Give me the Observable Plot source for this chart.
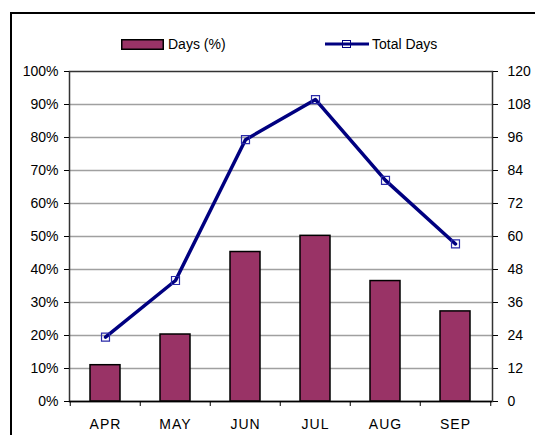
<!DOCTYPE html>
<html>
<head>
<meta charset="utf-8">
<script src="https://cdn.jsdelivr.net/npm/d3@7"></script>
<script src="https://cdn.jsdelivr.net/npm/@observablehq/plot@0.6"></script>
<style>
  html, body { margin: 0; padding: 0; background: #fff; }
  body { width: 535px; height: 435px; overflow: hidden; font-family: "Liberation Sans", Arial, sans-serif; }
  #wrap { position: relative; width: 535px; height: 435px; overflow: hidden; }
  #frame { position: absolute; left: 10px; top: 12px; width: 700px; height: 700px; border: 2px solid #000; box-sizing: border-box; }
  #chart { position: absolute; left: 0; top: 0; }
  .leg { position: absolute; font-size: 14px; line-height: 16px; color: #000; white-space: nowrap; }
  .mon text { letter-spacing: 1px; }
</style>
</head>
<body>
<div id="wrap">
  <div id="frame"></div>
  <div id="chart"></div>
  <svg class="leg" style="left:121px;top:39px" width="43" height="11"><rect x="0.75" y="0.75" width="41.5" height="9.5" fill="#993366" stroke="#000" stroke-width="1.5"/></svg>
  <span class="leg" style="left:168px;top:36px">Days (%)</span>
  <svg class="leg" style="left:325px;top:38px" width="44" height="12"><line x1="0" x2="44" y1="6" y2="6" stroke="#000080" stroke-width="3"/><rect x="17.5" y="2.5" width="8" height="7" fill="none" stroke="#000080" stroke-width="1"/></svg>
  <span class="leg" style="left:372px;top:36px">Total Days</span>
</div>
<script>
const months = ["APR", "MAY", "JUN", "JUL", "AUG", "SEP"];
const daysPct = [0.11, 0.203, 0.453, 0.502, 0.365, 0.273];
const totalDays = [23.4, 44, 95.2, 109.8, 80.4, 57.3];
const leftTicks = [0, 0.1, 0.2, 0.3, 0.4, 0.5, 0.6, 0.7, 0.8, 0.9, 1];
const leftLabels = ["0%", "10%", "20%", "30%", "40%", "50%", "60%", "70%", "80%", "90%", "100%"];
const rightLabels = ["0", "12", "24", "36", "48", "60", "72", "84", "96", "108", "120"];
const rightMax = 120;

const data = months.map((m, i) => ({ month: m, pct: daysPct[i], total: totalDays[i] }));

const W = 535, H = 435, ML = 69, MR = 43, MT = 71, MB = 34;
const bw = (W - ML - MR) / months.length;
const idx = d => Math.round(d * 10);

const chart = Plot.plot({
  width: W, height: H,
  marginLeft: ML, marginRight: MR, marginTop: MT, marginBottom: MB,
  style: { background: "none", fontFamily: "'Liberation Sans', Arial, sans-serif", fontSize: "14px", color: "#000" },
  x: { type: "band", domain: months, paddingInner: 0.57, paddingOuter: 0.285, align: 0.5 },
  y: { domain: [0, 1] },
  marks: [
    Plot.ruleY(leftTicks.slice(1, -1), { stroke: "#a0a0a0", strokeWidth: 1.5 }),
    Plot.barY(data, { x: "month", y: "pct", fill: "#993366", stroke: "#000", strokeWidth: 1.5 }),
    Plot.line(data, { x: "month", y: d => d.total / rightMax, stroke: "#000080", strokeWidth: 3.5 }),
    Plot.dot(data, { x: "month", y: d => d.total / rightMax, symbol: "square", r: 4.5, stroke: "#2a2aa8", strokeWidth: 1.2, fill: "none" }),
    Plot.frame({ stroke: "#333", strokeWidth: 1.5 }),
    Plot.ruleY([0], { stroke: "#000", strokeWidth: 1.5 }),
    Plot.axisY({ anchor: "left", ticks: leftTicks, tickFormat: d => leftLabels[idx(d)], tickSize: 5, tickPadding: 6, label: null, stroke: "#000" }),
    Plot.axisY({ anchor: "right", ticks: leftTicks, tickFormat: d => rightLabels[idx(d)], tickSize: 5, tickPadding: 10, label: null, stroke: "#000" }),
    Plot.axisX({ ticks: months, tickFormat: () => "", tickSize: 5, dx: -bw / 2, label: null, stroke: "#000" }),
    Plot.axisX({ ticks: months.slice(-1), tickFormat: () => "", tickSize: 5, dx: bw / 2, label: null, stroke: "#000" }),
    Plot.axisX({ ticks: months, tickSize: 0, tickPadding: 18, label: null, className: "mon" })
  ]
});
document.getElementById("chart").appendChild(chart);
</script>
</body>
</html>
